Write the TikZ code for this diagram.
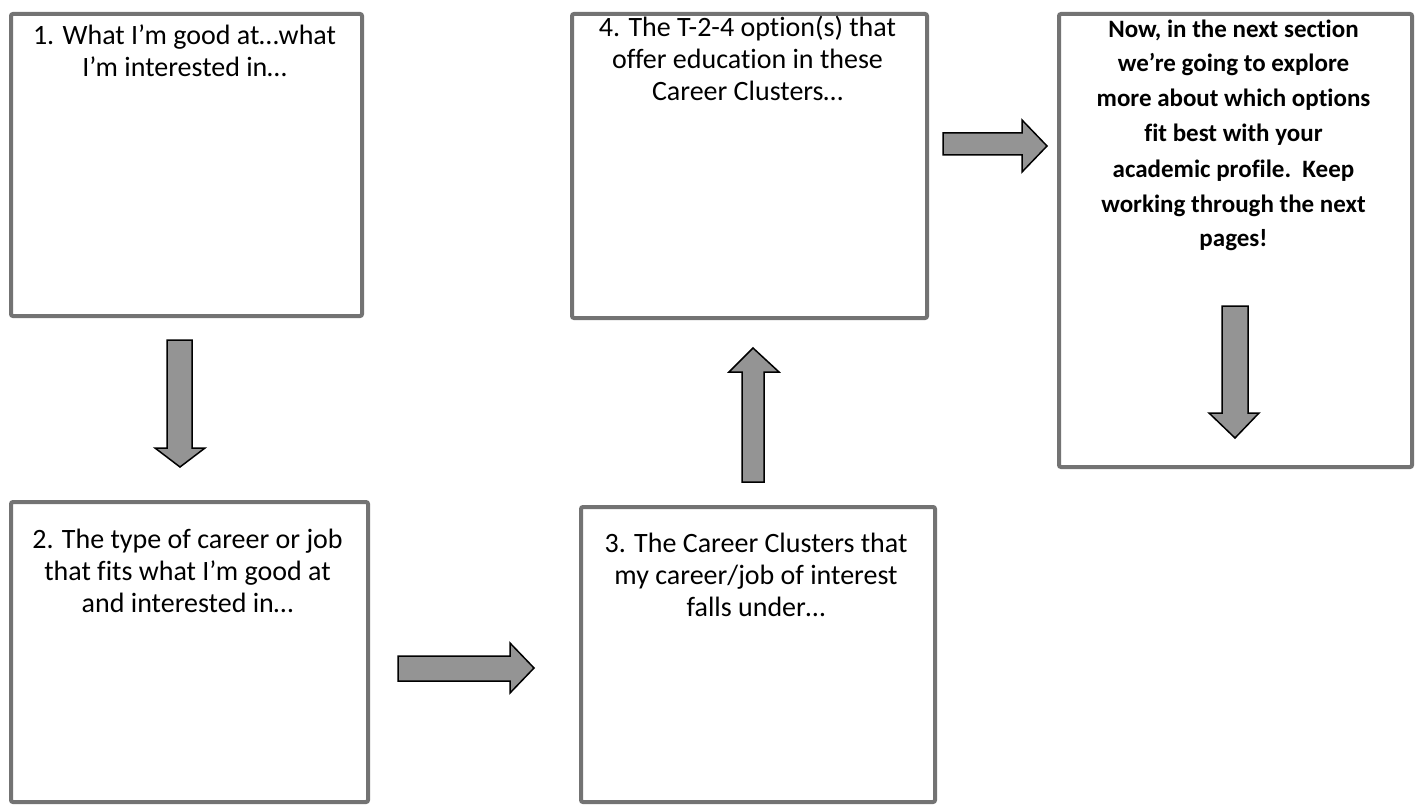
\documentclass[tikz,border=0pt]{standalone}
\usepackage{fontspec}
\setmainfont[Ligatures=NoCommon]{Carlito}
\begin{document}
\begin{tikzpicture}[x=1pt,y=-1pt,
  box/.style={draw=black!55, line width=4pt, rounded corners=2pt, fill=white, inner sep=0pt, anchor=north west},
  lbl/.style={align=center, inner sep=0pt, anchor=base, font=\fontsize{28}{32}\selectfont},
  blbl/.style={align=center, inner sep=0pt, anchor=base, font=\fontsize{25}{35}\selectfont\bfseries},
  blockarrow/.style={fill=black!42, draw=black, line width=1.5pt, line join=miter}
]
\useasboundingbox (0,0) rectangle (1416,805);
\fill[white] (0,0) rectangle (1416,805);

% boxes
\node[box, minimum width=351pt, minimum height=302pt] (b1) at (9,12) {};
\node[box, minimum width=357pt, minimum height=300pt] (b2) at (9,500) {};
\node[box, minimum width=354pt, minimum height=295pt] (b3) at (579,505) {};
\node[box, minimum width=355pt, minimum height=304pt] (b4) at (570,12) {};
\node[box, minimum width=353pt, minimum height=453pt] (b5) at (1057,12) {};

% texts (anchor = baseline of last line)
\node[lbl] (t1) at (184.5,77) {1. What I’m good at…what\\I’m interested in…};
\node[lbl] (t2) at (187.5,612) {2. The type of career or job\\that fits what I’m good at\\and interested in…};
\node[lbl] (t3) at (756,616) {3. The Career Clusters that\\my career/job of interest\\falls under…};
\node[lbl] (t4) at (747.5,101) {4. The T-2-4 option(s) that\\offer education in these\\Career Clusters…};
\node[blbl] (t5) at (1233.5,247) {Now, in the next section\\we’re going to explore\\more about which options\\fit best with your\\academic profile.\ \ Keep\\working through the next\\pages!};

% block arrows
% 1 -> 2 (down)
\draw[blockarrow] (167,340) -- (192,340) -- (192,448) -- (205,448) -- (180,467) -- (155,448) -- (167,448) -- cycle;
% 2 -> 3 (right)
\draw[blockarrow] (398,656) -- (510,656) -- (510,643) -- (534,668) -- (510,693) -- (510,681) -- (398,681) -- cycle;
% 3 -> 4 (up)
\draw[blockarrow] (742,482) -- (742,372) -- (729,372) -- (753,348) -- (779,372) -- (764,372) -- (764,482) -- cycle;
% 4 -> 5 (right)
\draw[blockarrow] (943,133) -- (1022,133) -- (1022,120) -- (1047,146) -- (1022,172) -- (1022,155) -- (943,155) -- cycle;
% inside box 5 (down)
\draw[blockarrow] (1222,306) -- (1248,306) -- (1248,413) -- (1259,413) -- (1235,438) -- (1209,413) -- (1222,413) -- cycle;
\end{tikzpicture}
\end{document}
